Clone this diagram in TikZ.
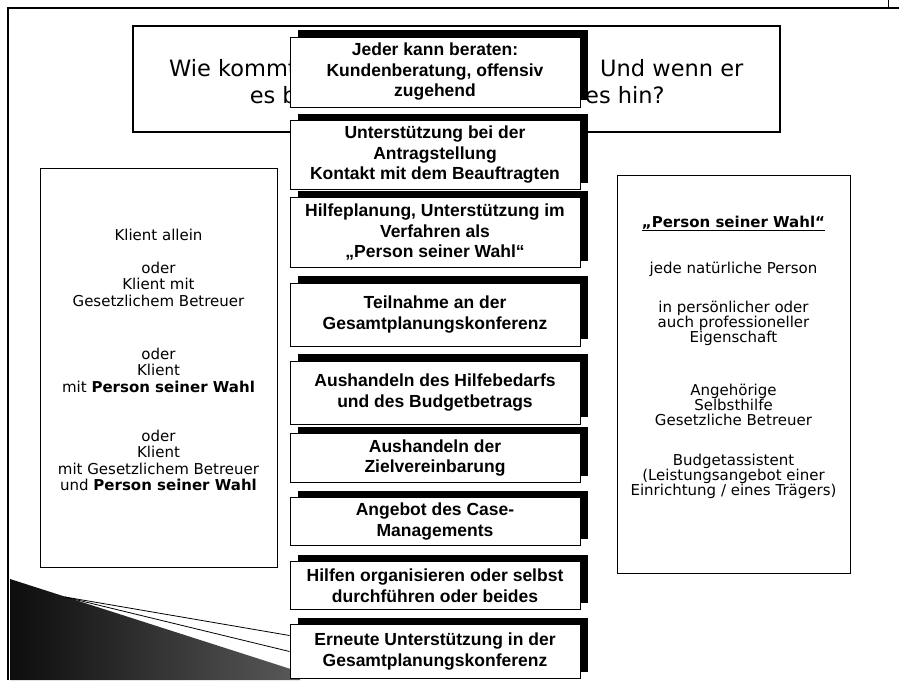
\documentclass[tikz,border=0pt]{standalone}
\usepackage{fontspec}
\newfontfamily\verdana{DejaVu Sans}
\newfontfamily\arial{Liberation Sans}
\usetikzlibrary{shadows}

\tikzset{
  schritt/.style={draw, fill=white, line width=0.9pt, minimum width=290pt, inner sep=0pt, align=center,
    font=\arial\bfseries\fontsize{17.5}{20.5}\selectfont,
    drop shadow={shadow xshift=8pt, shadow yshift=7pt, fill=black, opacity=1}},
  seite/.style={draw, line width=0.9pt, inner sep=0pt},
  titel/.style={inner sep=0pt, font=\verdana\fontsize{22.5}{27}\selectfont},
  seitentext/.style={align=center, inner sep=0pt, font=\verdana\fontsize{15}{16.5}\selectfont}
}

\begin{document}
\begin{tikzpicture}[x=1pt, y=-1pt]

      \useasboundingbox (0,0) rectangle (899,680);
      \fill[white] (0,0) rectangle (899,680);

      \draw[line width=1.5pt] (8,680) -- (8,8) -- (899,8);
      \draw[line width=1pt] (888,0) -- (888,8);

      \node[seite, line width=1.2pt, minimum width=647pt, minimum height=106pt] (T) at (456.5,79) {};
      \node[titel, anchor=base east] (T1) at (297,76) {Wie kommt};
      \node[titel, anchor=base east] (T2) at (297,103) {es b};
      \node[titel, anchor=base west] (T3) at (600,76) {Und wenn er};
      \node[titel, anchor=base west] (T4) at (585,103) {es hin?};

      \node[seite, minimum width=237pt, minimum height=399pt] (L) at (158.5,367.5) {};
      \node[seitentext] (Lt) at (158.5,360) {Klient allein\\[16.5pt]
        oder\\Klient mit\\Gesetzlichem Betreuer\\[36.5pt]
        oder\\Klient\\mit \textbf{Person seiner Wahl}\\[32.5pt]
        oder\\Klient\\mit Gesetzlichem Betreuer\\und \textbf{Person seiner Wahl}};

      \node[seite, minimum width=233pt, minimum height=398pt] (R) at (733.5,374) {};
      \node[seitentext, font=\verdana\fontsize{15}{15}\selectfont] (Rt) at (733.5,357)
        {{\bfseries\underline{„Person seiner Wahl“}}\\[30pt]
        jede natürliche Person\\[24pt]
        in persönlicher oder\\auch professioneller\\Eigenschaft\\[38pt]
        Angehörige\\Selbsthilfe\\Gesetzliche Betreuer\\[25pt]
        Budgetassistent\\(Leistungsangebot einer\\Einrichtung / eines Trägers)};

      \shade[left color=black!95, right color=black!65] (10,579) -- (300,672) -- (300,680) -- (10,680) -- cycle;

      \node[schritt, minimum height=70pt] (S1) at (435,72) {Jeder kann beraten:\\Kundenberatung, offensiv\\zugehend};
      \node[schritt, minimum height=69pt] (S2) at (435,155) {Unterstützung bei der\\Antragstellung\\Kontakt mit dem Beauftragten};
      \node[schritt, minimum height=70pt] (S3) at (435,232.5) {Hilfeplanung, Unterstützung im\\Verfahren als\\„Person seiner Wahl“};
      \node[schritt, minimum height=63pt] (S4) at (435,314.5) {Teilnahme an der\\Gesamtplanungskonferenz};
      \node[schritt, minimum height=63pt] (S5) at (435,392.5) {Aushandeln des Hilfebedarfs\\und des Budgetbetrags};
      \node[schritt, minimum height=49pt] (S6) at (435,458) {Aushandeln der\\Zielvereinbarung};
      \node[schritt, minimum height=48pt] (S7) at (435,521.5) {Angebot des Case-\\Managements};
      \node[schritt, minimum height=48pt] (S8) at (435,585.5) {Hilfen organisieren oder selbst\\durchführen oder beides};
      \node[schritt, minimum height=54pt] (S9) at (435,651.5) {Erneute Unterstützung in der\\Gesamtplanungskonferenz};

      \coordinate (K) at (65,597);
      \draw[line width=0.8pt] (K) -- ([yshift=16pt]S9.west);
      \draw[line width=0.8pt] (K) -- (S9.west);

    \end{tikzpicture}
\end{document}
